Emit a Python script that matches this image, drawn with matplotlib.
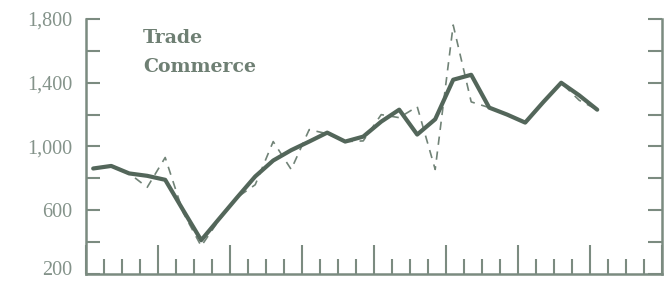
import matplotlib
matplotlib.use("Agg")
import matplotlib.pyplot as plt
import matplotlib.transforms as mtransforms
from matplotlib.ticker import MultipleLocator, FixedLocator

# quarters (time index) at which both series are plotted
quarters = [k + 0.4 for k in range(29)]

trade = [862, 878, 831, 816, 791, 600, 412, 547, 681, 812, 912, 977, 1031,
         1087, 1031, 1062, 1156, 1231, 1075, 1171, 1419, 1450, 1244, 1200,
         1150, 1278, 1400, 1321, 1231]

commerce = [862, 878, 831, 744, 931, 585, 375, 540, 681, 760, 1031, 856, 1106,
            1080, 1031, 1035, 1200, 1181, 1250, 856, 1762, 1280, 1244, 1200,
            1150, 1278, 1400, 1290, 1231]

y_major = [1800, 1400, 1000, 600, 200]
y_major_labels = ["1,800", "1,400", "1,000", "600", "200"]
y_minor = [1600, 1200, 800, 400]

series_labels = ["Trade", "Commerce"]

axis_col = "#7b8b80"
solid_col = "#53665a"
dash_col = "#718377"
text_col = "#6e7f73"
label_col = "#84938a"

fig = plt.figure(figsize=(6.72, 2.81), dpi=100)
ax = fig.add_axes([86/672, 1 - 274/281, 576/672, 255/281])

ax.plot(quarters, commerce, color=dash_col, lw=1.2, ls=(0, (5, 4)), zorder=2)
ax.plot(quarters, trade, color=solid_col, lw=3.0, solid_joinstyle="round",
        solid_capstyle="round", zorder=3)

ax.set_xlim(0, 32)
ax.set_ylim(200, 1800)

ax.spines["top"].set_visible(False)
for s in ["left", "right", "bottom"]:
    ax.spines[s].set_color(axis_col)
    ax.spines[s].set_linewidth(1.8)

ax.yaxis.set_major_locator(FixedLocator(y_major))
ax.set_yticklabels(y_major_labels)
ax.yaxis.set_minor_locator(FixedLocator(y_minor))
ax.tick_params(axis="y", which="both", direction="in", length=10, width=1.5,
               color=axis_col, left=True, right=True, labelright=False, pad=10)
ax.tick_params(axis="y", which="major", labelsize=14.5, labelcolor=label_col)
for lab in ax.get_yticklabels():
    lab.set_family("Liberation Serif")
    if lab.get_text() == "200":
        lab.set_transform(lab.get_transform() +
                          mtransforms.ScaledTranslation(0, 4/72, fig.dpi_scale_trans))

ax.xaxis.set_major_locator(MultipleLocator(4))
ax.xaxis.set_minor_locator(MultipleLocator(1))
ax.tick_params(axis="x", which="major", direction="in", length=21, width=1.5,
               color=axis_col, labelbottom=False)
ax.tick_params(axis="x", which="minor", direction="in", length=11, width=1.5,
               color=axis_col)

ax.text(0.099, 0.925, series_labels[0], transform=ax.transAxes, ha="left",
        va="center", fontsize=13.6, fontweight="bold", family="DejaVu Serif",
        color=text_col)
ax.text(0.099, 0.812, series_labels[1], transform=ax.transAxes, ha="left",
        va="center", fontsize=13.6, fontweight="bold", family="DejaVu Serif",
        color=text_col)

fig.savefig("out.png", dpi=100)
